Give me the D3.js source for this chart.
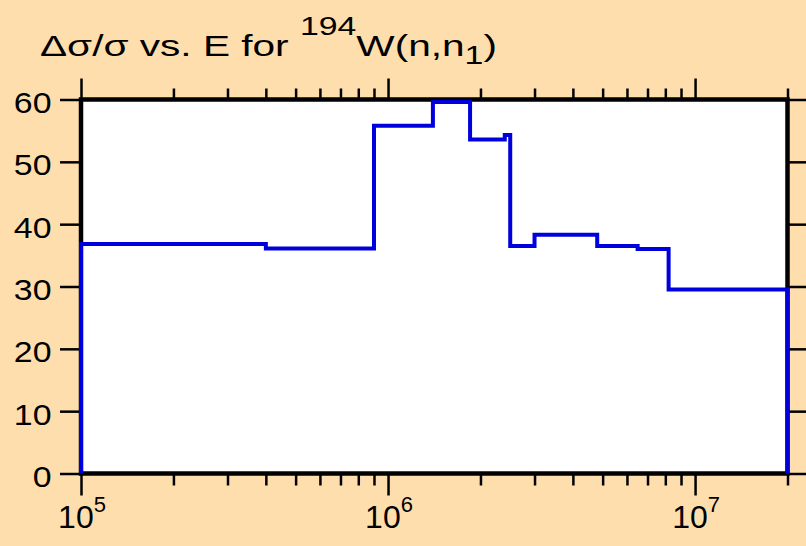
<!DOCTYPE html>
<html><head><meta charset="utf-8">
<script src="https://cdn.jsdelivr.net/npm/d3@7"></script>
<style>
html,body{margin:0;padding:0;background:#FFDEAD;}
svg{display:block;}
</style></head>
<body><svg id="chart" width="806" height="546"></svg>
<script>
// ---- data ----
const binEdges = [1e5, 4e5, 9e5, 1.4e6, 1.85e6, 2.4e6, 2.5e6, 3e6, 4.8e6, 6.5e6, 8.2e6, 2e7];
const relUncertainty = [36.8, 36.1, 55.8, 59.6, 53.6, 54.3, 36.5, 38.3, 36.5, 36.0, 29.5];
const yTickValues = [0, 10, 20, 30, 40, 50, 60];
const xMajorTicks = [1e5, 1e6, 1e7];
const xMajorExponents = ["5", "6", "7"];
const xDomain = [1e5, 2e7];
const yDomain = [0, 60];

// ---- layout ----
const svg = d3.select("#chart");
const W = 806, H = 546;
const L = 81, R = 787.5, T = 99.5, B = 473.5;
const font = "'Liberation Sans', Arial, Helvetica, sans-serif";

svg.append("rect").attr("width", W).attr("height", H).attr("fill", "#FFDEAD");

const x = d3.scaleLog().domain(xDomain).range([L, R]);
const y = d3.scaleLinear().domain(yDomain).range([B, T]);

svg.append("rect").attr("x", L).attr("y", T).attr("width", R - L).attr("height", B - T).attr("fill", "#ffffff");

const minorTicks = [];
for (let e = 5; e <= 7; e++) {
  for (let m = 2; m <= 9; m++) {
    const v = m * Math.pow(10, e);
    if (v <= xDomain[1] * 1.0001) minorTicks.push(v);
  }
}

function styleAxis(g) {
  g.select(".domain").remove();
  g.selectAll(".tick line").attr("stroke", "#000").attr("stroke-width", 2.5);
  g.selectAll(".tick text").remove();
}

svg.append("g").attr("transform", `translate(0,${B})`)
  .call(d3.axisBottom(x).tickValues(minorTicks).tickSize(12).tickFormat("")).call(styleAxis);
svg.append("g").attr("transform", `translate(0,${B})`)
  .call(d3.axisBottom(x).tickValues(xMajorTicks).tickSize(22).tickFormat("")).call(styleAxis);
svg.append("g").attr("transform", `translate(0,${T})`)
  .call(d3.axisTop(x).tickValues(minorTicks).tickSize(11).tickFormat("")).call(styleAxis);
svg.append("g").attr("transform", `translate(0,${T})`)
  .call(d3.axisTop(x).tickValues(xMajorTicks).tickSize(21).tickFormat("")).call(styleAxis);
svg.append("g").attr("transform", `translate(${L},0)`)
  .call(d3.axisLeft(y).tickValues(yTickValues).tickSize(21).tickFormat("")).call(styleAxis);
svg.append("g").attr("transform", `translate(${R},0)`)
  .call(d3.axisRight(y).tickValues(yTickValues).tickSize(20).tickFormat("")).call(styleAxis);

// y tick labels
svg.append("g").selectAll("g").data(yTickValues).join("g")
  .attr("transform", d => `translate(51.5,${y(d) + 13.5}) scale(1.13,1)`)
  .append("text")
  .attr("text-anchor", "end")
  .attr("font-family", font).attr("font-size", 30).attr("fill", "#000")
  .text(d => d);

// x tick labels (10^n)
const xl = svg.append("g").selectAll("text").data(xMajorTicks).join("text")
  .attr("x", d => x(d) + 1).attr("y", 528)
  .attr("text-anchor", "middle")
  .attr("font-family", font).attr("fill", "#000");
xl.append("tspan").attr("font-size", 32).text("10");
xl.append("tspan").attr("font-size", 22).attr("dy", -16).text((d, i) => xMajorExponents[i]);

// border
svg.append("rect").attr("x", L).attr("y", T).attr("width", R - L).attr("height", B - T)
  .attr("fill", "none").attr("stroke", "#000").attr("stroke-width", 4.5);

// step line
const pts = [[binEdges[0], 0]];
relUncertainty.forEach((v, i) => { pts.push([binEdges[i], v]); pts.push([binEdges[i + 1], v]); });
pts.push([binEdges[binEdges.length - 1], 0]);
const line = d3.line().x(d => x(d[0])).y(d => y(d[1]));
svg.append("path").attr("d", line(pts)).attr("fill", "none")
  .attr("stroke", "#0000dd").attr("stroke-width", 4).attr("stroke-linejoin", "miter").attr("stroke-linecap", "butt");

// title
const title = svg.append("text").attr("x", 0).attr("y", 0)
  .attr("font-family", font).attr("font-size", 30).attr("fill", "#000");
title.append("tspan").text("Δσ/σ vs. E for ");
title.append("tspan").attr("font-size", 25).attr("dy", -21).text("194");
title.append("tspan").attr("dy", 21).text("W(n,n");
title.append("tspan").attr("font-size", 25).attr("dy", 8).text("1");
title.append("tspan").attr("dy", -8).text(")");
const bb = title.node().getBBox();
const targetW = 497 - 40;
const sx = targetW / bb.width;
title.attr("transform", `translate(${40 - bb.x * sx},56) scale(${sx},1)`);
</script>
</body></html>
